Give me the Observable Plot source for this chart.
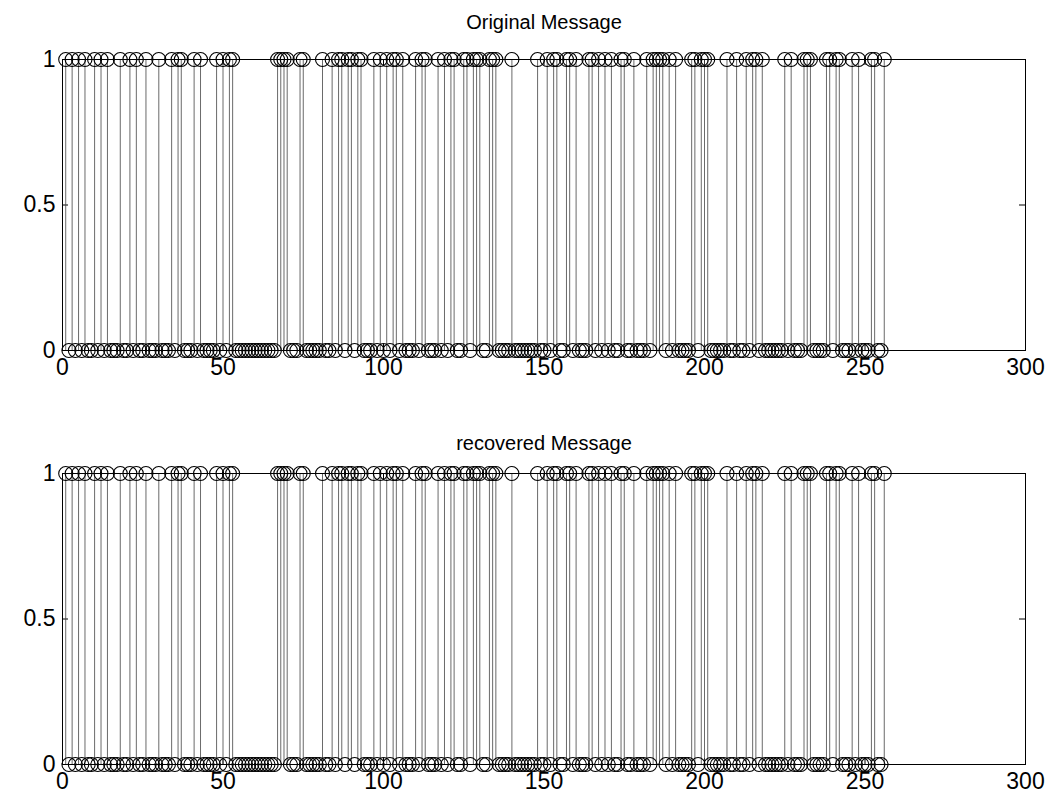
<!DOCTYPE html>
<html><head><meta charset="utf-8">
<script src="https://cdn.jsdelivr.net/npm/d3@7"></script>
<script src="https://cdn.jsdelivr.net/npm/@observablehq/plot@0.6"></script>
<style>
body{margin:0;background:#fff;font-family:"Liberation Sans",Arial,sans-serif;}
#chart{width:1055px;height:807px;overflow:hidden}
svg{display:block}
</style></head><body><div id="chart"></div>
<script>
// bit index 1..256
const originalBits = [
1,0,1,0,1,0,1,0,0,1,0,1,0,1,0,0,
0,1,0,0,1,0,1,0,0,1,0,0,0,1,0,0,
0,1,0,1,1,0,0,0,1,0,1,0,0,0,0,1,
0,1,0,1,1,0,0,0,0,0,0,0,0,0,0,0,
0,0,1,1,1,1,0,0,0,1,1,0,0,0,0,0,
1,0,0,1,0,1,1,0,1,1,0,1,1,0,0,0,
1,0,1,0,1,0,1,1,0,1,0,0,0,1,0,1,
1,0,0,0,1,0,1,0,1,1,0,0,1,1,0,1,
1,1,0,0,1,1,1,0,0,0,0,1,0,0,0,0,
0,0,0,1,0,0,1,0,1,1,0,0,1,1,0,1,
0,0,0,1,1,0,1,0,1,0,1,0,0,1,1,0,
0,1,0,0,0,1,0,1,1,1,1,0,1,0,1,0,
0,0,0,1,1,0,1,1,1,0,0,0,0,0,1,0,
0,1,0,0,1,0,1,1,0,1,0,0,0,0,0,0,
1,0,1,0,0,0,1,1,1,0,0,0,0,1,1,0,
1,1,0,0,0,1,0,1,0,0,0,1,1,0,0,1
];
const recoveredBits = [
1,0,1,0,1,0,1,0,0,1,0,1,0,1,0,0,
0,1,0,0,1,0,1,0,0,1,0,0,0,1,0,0,
0,1,0,1,1,0,0,0,1,0,1,0,0,0,0,1,
0,1,0,1,1,0,0,0,0,0,0,0,0,0,0,0,
0,0,1,1,1,1,0,0,0,1,1,0,0,0,0,0,
1,0,0,1,0,1,1,0,1,1,0,1,1,0,0,0,
1,0,1,0,1,0,1,1,0,1,0,0,0,1,0,1,
1,0,0,0,1,0,1,0,1,1,0,0,1,1,0,1,
1,1,0,0,1,1,1,0,0,0,0,1,0,0,0,0,
0,0,0,1,0,0,1,0,1,1,0,0,1,1,0,1,
0,0,0,1,1,0,1,0,1,0,1,0,0,1,1,0,
0,1,0,0,0,1,0,1,1,1,1,0,1,0,1,0,
0,0,0,1,1,0,1,1,1,0,0,0,0,0,1,0,
0,1,0,0,1,0,1,1,0,1,0,0,0,0,0,0,
1,0,1,0,0,0,1,1,1,0,0,0,0,1,1,0,
1,1,0,0,0,1,0,1,0,0,0,1,1,0,0,1
];
const xTicks = [0, 50, 100, 150, 200, 250, 300];
const yTicks = [0, 0.5, 1];
const titles = ["Original Message", "recovered Message"];

function panel(bits, title, o) {
  const data = bits.map((v, i) => ({n: i + 1, v}));
  const W = 1055, ml = 62, mr = 30;
  const frameH = o.height - o.mt - o.mb;
  const frameW = W - ml - mr;
  const tk = 6;
  return Plot.plot({
    width: W, height: o.height,
    marginLeft: ml, marginRight: mr, marginTop: o.mt, marginBottom: o.mb,
    style: {fontFamily: "Liberation Sans, Arial, sans-serif", fontSize: "23px", color: "#000", background: "#fff", overflow: "visible"},
    x: {domain: [0, 300]},
    y: {domain: [0, 1]},
    marks: [
      Plot.axisX(xTicks, {tickSize: 0, tickPadding: 8, fontSize: 23, label: null, tickFormat: d => String(d)}),
      Plot.axisY(yTicks, {tickSize: 0, tickPadding: 7, fontSize: 23, label: null, tickFormat: d => String(d)}),
      Plot.ruleX(xTicks, {insetTop: frameH - tk, stroke: "#000"}),
      Plot.ruleX(xTicks, {insetBottom: frameH - tk, stroke: "#000"}),
      Plot.ruleY(yTicks, {insetRight: frameW - tk, stroke: "#000"}),
      Plot.ruleY(yTicks, {insetLeft: frameW - tk, stroke: "#000"}),
      Plot.ruleX(data, {x: "n", y1: 0, y2: "v", stroke: "#444", strokeWidth: 0.8}),
      Plot.dot(data, {x: "n", y: "v", r: 7, stroke: "#000", strokeWidth: 1.1, fill: "none"}),
      Plot.frame({stroke: "#000"}),
      Plot.text([title], {frameAnchor: "top", dy: o.titleDy, fontSize: 20, fill: "#000", lineAnchor: "middle"})
    ]
  });
}

const root = document.getElementById("chart");
root.appendChild(panel(originalBits, titles[0], {height: 414, mt: 59, mb: 64, titleDy: -37}));
root.appendChild(panel(recoveredBits, titles[1], {height: 393, mt: 59, mb: 43, titleDy: -30}));
</script>
</body></html>
